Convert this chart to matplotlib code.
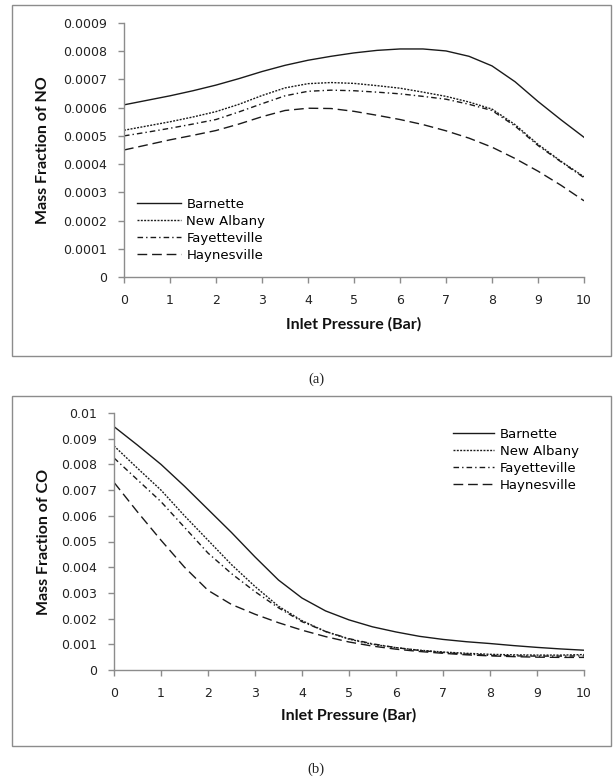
import numpy as np
import matplotlib
matplotlib.use("Agg")
import matplotlib.pyplot as plt
from matplotlib.patches import Rectangle

# inlet pressure (bar)
pressure = np.arange(0, 10.5, 0.5)

# mass fraction of NO (x 1e-4)
no_barnette = [6.10, 6.26, 6.42, 6.60, 6.80, 7.03, 7.28, 7.50, 7.68, 7.82, 7.94,
               8.03, 8.08, 8.08, 8.01, 7.82, 7.48, 6.92, 6.22, 5.57, 4.95]
no_new_albany = [5.20, 5.35, 5.50, 5.67, 5.86, 6.12, 6.43, 6.70, 6.85, 6.89, 6.86,
                 6.78, 6.69, 6.55, 6.40, 6.20, 5.95, 5.40, 4.70, 4.10, 3.55]
no_fayetteville = [5.00, 5.13, 5.27, 5.42, 5.58, 5.85, 6.14, 6.42, 6.58, 6.62, 6.60,
                   6.55, 6.49, 6.40, 6.30, 6.12, 5.90, 5.35, 4.66, 4.08, 3.52]
no_haynesville = [4.50, 4.68, 4.86, 5.02, 5.19, 5.42, 5.68, 5.90, 5.98, 5.97, 5.87,
                  5.73, 5.58, 5.40, 5.18, 4.92, 4.60, 4.20, 3.75, 3.25, 2.70]

# mass fraction of CO (x 1e-3)
co_barnette = [9.47, 8.75, 8.00, 7.15, 6.25, 5.35, 4.40, 3.50, 2.80, 2.30, 1.95,
               1.68, 1.48, 1.31, 1.19, 1.10, 1.03, 0.95, 0.88, 0.82, 0.77]
co_new_albany = [8.72, 7.85, 7.00, 6.00, 5.05, 4.10, 3.25, 2.48, 1.92, 1.50, 1.20,
                 1.00, 0.87, 0.77, 0.70, 0.65, 0.61, 0.59, 0.58, 0.58, 0.60]
co_fayetteville = [8.25, 7.40, 6.55, 5.55, 4.55, 3.75, 3.05, 2.42, 1.88, 1.50, 1.22,
                   1.02, 0.87, 0.76, 0.68, 0.62, 0.57, 0.55, 0.54, 0.54, 0.55]
co_haynesville = [7.30, 6.15, 5.05, 4.00, 3.10, 2.55, 2.17, 1.84, 1.55, 1.30, 1.09,
                  0.93, 0.81, 0.72, 0.65, 0.59, 0.55, 0.52, 0.50, 0.49, 0.49]

names = ['Barnette', 'New Albany', 'Fayetteville', 'Haynesville']
styles = ['-', (0, (1.4, 1.0)), (0, (4.0, 2.2, 1.0, 2.2)), (0, (7.0, 3.5))]
line_color = '#1a1a1a'
axis_color = '#8c8c8c'

W, H = 615, 782
fig = plt.figure(figsize=(W / 100, H / 100), dpi=100)


def px_axes(l, r, t, b):
    return fig.add_axes([l / W, 1 - b / H, (r - l) / W, (b - t) / H])


def style_axes(ax, ymax, ystep, yfmt):
    for s in ['top', 'right']:
        ax.spines[s].set_visible(False)
    for s in ['left', 'bottom']:
        ax.spines[s].set_color(axis_color)
        ax.spines[s].set_linewidth(1.0)
    ax.set_xlim(0, 10)
    ax.set_ylim(0, ymax)
    ax.set_xticks(range(0, 11))
    yt = np.arange(0, ymax + ystep / 2, ystep)
    ax.set_yticks(yt)
    ax.set_yticklabels([yfmt(v) for v in yt])
    ax.tick_params(axis='x', direction='out', length=4, width=1, color=axis_color,
                   pad=8, labelsize=9, labelcolor='#222222')
    ax.tick_params(axis='y', direction='out', length=4, width=1, color=axis_color,
                   pad=8, labelsize=9, labelcolor='#222222')
    for lab in ax.get_xticklabels() + ax.get_yticklabels():
        lab.set_family('DejaVu Sans')


def fmt_no(v):
    return '0' if v == 0 else '%.4f' % v


def fmt_co(v):
    if v == 0:
        return '0'
    return '0.01' if v > 0.0095 else '%.3f' % v


# outer boxes
for (top, bot) in [(5, 356), (396, 746)]:
    fig.patches.append(Rectangle((12 / W, 1 - bot / H), 599 / W, (bot - top) / H,
                                 transform=fig.transFigure, fill=False,
                                 edgecolor=axis_color, linewidth=1.0))

label_kw = dict(family='Lato', fontweight='bold', fontsize=11.5, color='#111111')
legend_kw = dict(loc='upper left', frameon=False, borderpad=0, borderaxespad=0,
                 handletextpad=0.45, labelspacing=0.3,
                 prop={'family': 'DejaVu Sans', 'size': 9.5})

# (a) NO
ax1 = px_axes(124, 584, 23, 277)
for ys, name, ls in zip([no_barnette, no_new_albany, no_fayetteville, no_haynesville], names, styles):
    ax1.plot(pressure, np.array(ys) * 1e-4, color=line_color, linestyle=ls,
             linewidth=1.0, label=name)
style_axes(ax1, 0.0009, 0.0001, fmt_no)
ax1.set_xlabel('Inlet Pressure (Bar)', **label_kw)
ax1.set_ylabel('Mass Fraction of NO', **label_kw)
ax1.xaxis.set_label_coords(0.5, -(324 - 277) / 254)
ax1.xaxis.label.set_verticalalignment('center')
ax1.yaxis.set_label_coords((43 - 124) / 460, 0.5)
ax1.yaxis.label.set_verticalalignment('center')
ax1.legend(bbox_to_anchor=((137 - 124) / 460, (277 - 198) / 254),
           handlelength=3.3, **legend_kw)

# (b) CO
ax2 = px_axes(114, 584, 413, 670)
for ys, name, ls in zip([co_barnette, co_new_albany, co_fayetteville, co_haynesville], names, styles):
    ax2.plot(pressure, np.array(ys) * 1e-3, color=line_color, linestyle=ls,
             linewidth=1.0, label=name)
style_axes(ax2, 0.01, 0.001, fmt_co)
ax2.set_xlabel('Inlet Pressure (Bar)', **label_kw)
ax2.set_ylabel('Mass Fraction of CO', **label_kw)
ax2.xaxis.set_label_coords(0.5, -(715 - 670) / 257)
ax2.xaxis.label.set_verticalalignment('center')
ax2.yaxis.set_label_coords((44 - 114) / 470, 0.5)
ax2.yaxis.label.set_verticalalignment('center')
ax2.legend(bbox_to_anchor=((453 - 114) / 470, (670 - 428) / 257),
           handlelength=3.1, **legend_kw)

fig.text(316 / W, 1 - 379 / H, '(a)', ha='center', va='center',
         family='Liberation Serif', fontsize=10.5, color='#222222')
fig.text(316 / W, 1 - 769 / H, '(b)', ha='center', va='center',
         family='Liberation Serif', fontsize=10.5, color='#222222')

fig.savefig('out.png', dpi=100)
